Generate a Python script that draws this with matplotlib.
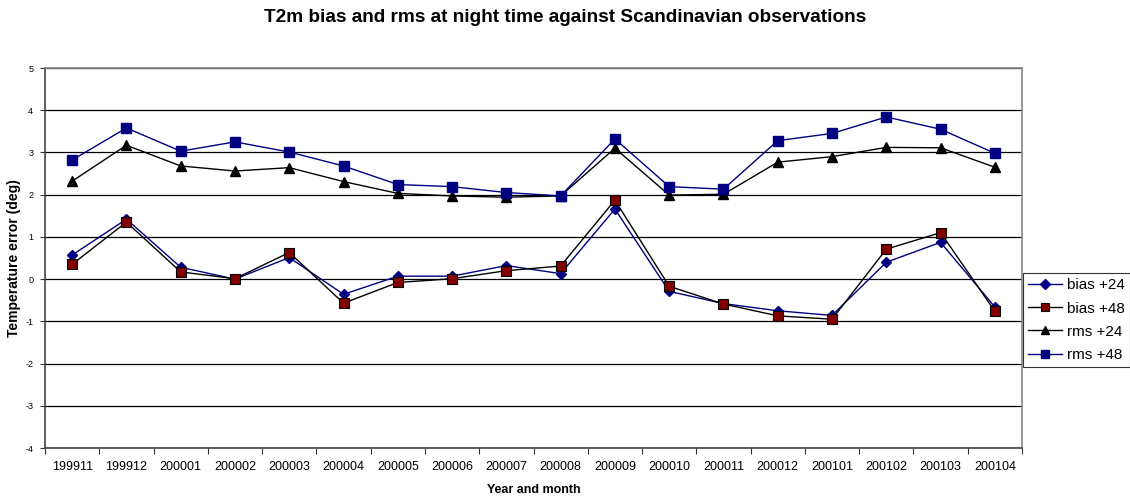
import matplotlib
matplotlib.use("Agg")
import matplotlib.pyplot as plt
import numpy as np

plt.rcParams['font.family'] = ['Liberation Sans', 'DejaVu Sans']

months = ["199911", "199912", "200001", "200002", "200003", "200004", "200005",
          "200006", "200007", "200008", "200009", "200010", "200011", "200012",
          "200101", "200102", "200103", "200104"]
bias24 = [0.57, 1.42, 0.28, 0.00, 0.51, -0.36, 0.07, 0.07, 0.32, 0.13, 1.66,
          -0.29, -0.58, -0.75, -0.86, 0.40, 0.87, -0.66]
bias48 = [0.35, 1.35, 0.17, 0.01, 0.63, -0.57, -0.08, 0.01, 0.20, 0.31, 1.87,
          -0.17, -0.59, -0.87, -0.95, 0.71, 1.10, -0.76]
rms24 = [2.32, 3.17, 2.68, 2.56, 2.64, 2.31, 2.03, 1.97, 1.94, 1.97, 3.10,
         1.99, 2.01, 2.77, 2.90, 3.12, 3.11, 2.65]
rms48 = [2.82, 3.58, 3.03, 3.25, 3.01, 2.68, 2.24, 2.19, 2.05, 1.97, 3.32,
         2.19, 2.13, 3.28, 3.45, 3.84, 3.55, 2.98]
yticks = [-4, -3, -2, -1, 0, 1, 2, 3, 4, 5]

navy = "#000080"
darkred = "#800000"

fig = plt.figure(figsize=(11.3, 5.0), dpi=100)
ax = fig.add_axes([45/1130, 52/500, (1022-45)/1130, (448-68)/500])

x = np.arange(len(months))
for v in yticks:
    ax.axhline(v, color="black", lw=0.9, zorder=1)

lb24, = ax.plot(x, bias24, color=navy, lw=1.0, marker="D", ms=5, mfc=navy, mec=navy, zorder=3, label="bias +24")
lb48, = ax.plot(x, bias48, color="black", lw=1.0, marker="s", ms=6.5, mfc=darkred, mec="black", mew=0.8, zorder=3, label="bias +48")
lr24, = ax.plot(x, rms24, color="black", lw=1.0, marker="^", ms=6.5, mfc="black", mec="black", zorder=3, label="rms +24")
lr48, = ax.plot(x, rms48, color=navy, lw=1.0, marker="s", ms=7.5, mfc=navy, mec=navy, zorder=3, label="rms +48")

ax.set_xlim(-0.5, len(months) - 0.5)
ax.set_ylim(-4, 5)
ax.set_yticks(yticks)
ax.set_yticklabels([str(v) for v in yticks], fontsize=6.5)
ax.set_xticks(np.arange(-0.5, len(months), 1.0))
ax.set_xticklabels([])
ax.set_xticks(x, minor=True)
ax.set_xticklabels(months, minor=True, fontsize=9)
ax.tick_params(axis="x", which="major", length=4, direction="out", color="#333333")
ax.tick_params(axis="x", which="minor", length=0, pad=9.5)
ax.tick_params(axis="y", length=3.5, direction="out", pad=5, color="#333333")

for s in ["top", "right"]:
    ax.spines[s].set_color("#888888")
    ax.spines[s].set_linewidth(1.2)
for s in ["left", "bottom"]:
    ax.spines[s].set_color("#444444")
    ax.spines[s].set_linewidth(1.2)

ax.set_xlabel("Year and month", fontsize=9, fontweight="bold", labelpad=8)
ax.set_ylabel("Temperature error (deg)", fontsize=10, fontweight="bold", labelpad=3)

fig.suptitle("T2m bias and rms at night time against Scandinavian observations",
             fontsize=13.7, fontweight="bold", y=1 - 17/500, va="center")

leg = fig.legend(handles=[lb24, lb48, lr24, lr48], loc="upper left",
                 bbox_to_anchor=(1023/1130, 1 - 273/500), fontsize=11,
                 frameon=True, fancybox=False, edgecolor="black",
                 handlelength=2.2, handletextpad=0.3, borderpad=0.35,
                 labelspacing=0.6, borderaxespad=0)
leg.get_frame().set_linewidth(0.8)
for h in leg.legend_handles:
    h.set_markersize(5.5)

fig.savefig("out.png", dpi=100, facecolor="white")
